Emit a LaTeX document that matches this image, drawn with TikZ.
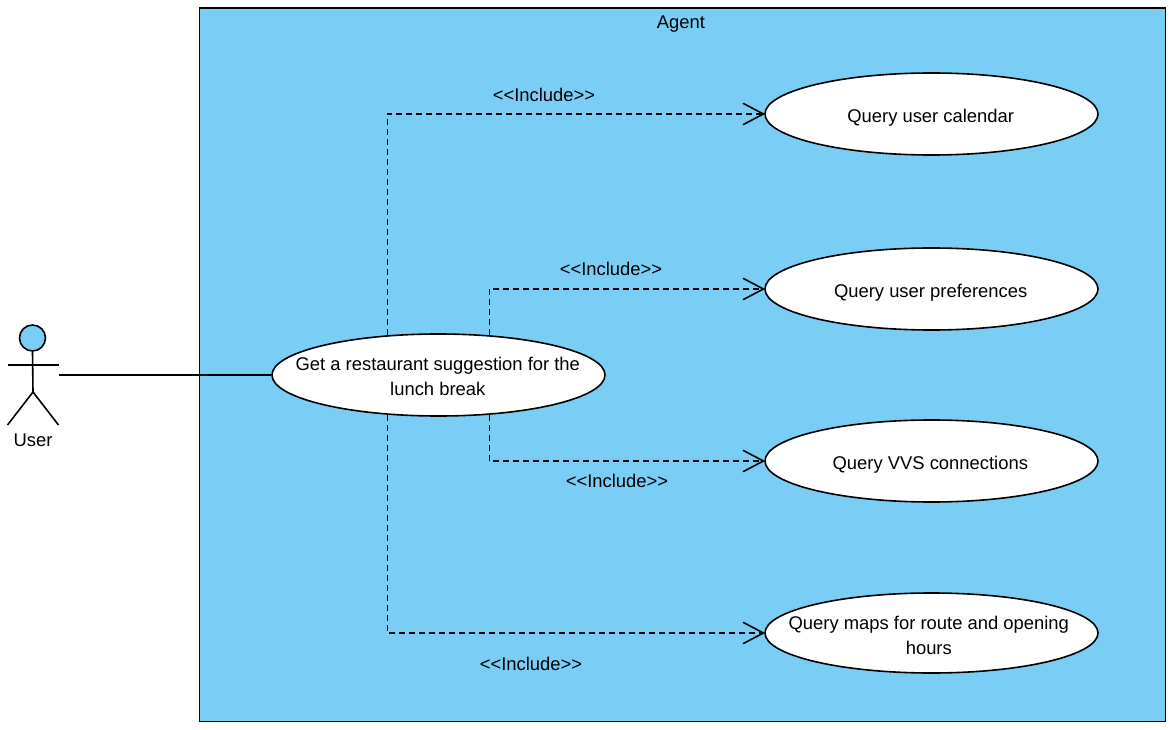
\documentclass[tikz,border=0pt]{standalone}
\usepackage{fontspec}
\setmainfont{Liberation Sans}
\usetikzlibrary{shapes.geometric,arrows.meta}
\definecolor{agentblue}{RGB}{122,206,245}
\begin{document}
\begin{tikzpicture}[x=1pt,y=-1pt,
  line width=1.6pt,
  every label/.style={font=\fontsize{18.4}{25}\selectfont,align=center,inner sep=0pt},
  usecase/.style={draw,ellipse,fill=white,inner sep=0pt,minimum width=333pt},
  txt/.style={font=\fontsize{18.4}{25}\selectfont,inner sep=0pt,align=center},
  incl/.style={line width=1.8pt,dash pattern=on 6pt off 4pt,-{Straight Barb[length=20pt,width=21pt,line width=1.6pt,round]}}
]
\useasboundingbox (0,0) rectangle (1170,730);
\node[draw,line width=1.4pt,fill=agentblue,minimum width=965.5pt,minimum height=713.5pt,inner sep=0pt,anchor=north west] (agent) at (199,7.2) {};
\node[txt] (agentlabel) at (681,24.5) {Agent};
% actor
\node[draw,circle,fill=agentblue,minimum size=26pt,inner sep=0pt] (head) at (32.5,338) {};
\coordinate (hip) at (33,392);
\coordinate (armL) at (7.5,365);
\coordinate (armR) at (58.5,365);
\coordinate (footL) at (7.5,425);
\coordinate (footR) at (58.5,425);
\coordinate (assoc) at (58.5,375);
\draw (head.south) -- (hip);
\draw (armL) -- (armR);
\draw (footL) -- (hip) -- (footR);
\node[txt] (user) at (33,440) {User};
% use cases
\node[usecase,minimum height=82pt,label={[xshift=-0.7pt,yshift=-1.5pt]center:{Get a restaurant suggestion for the\\lunch break}}] (main) at (438.5,375) {};
\node[usecase,minimum height=82pt,label={[xshift=-0.8pt,yshift=-3.5pt]center:{Query user calendar}}] (cal) at (931.5,114) {};
\node[usecase,minimum height=82pt,label={[xshift=-0.8pt,yshift=-3.5pt]center:{Query user preferences}}] (pref) at (931.5,289) {};
\node[usecase,minimum height=82pt,label={[xshift=-1.2pt,yshift=-3.5pt]center:{Query VVS connections}}] (vvs) at (931.5,461) {};
\node[usecase,minimum height=80pt,label={[xshift=-2.7pt,yshift=-2.5pt]center:{Query maps for route and opening\\hours}}] (maps) at (931.5,633) {};
% connectors
\draw (assoc) -- (main.west);
\draw[incl] (main.142) |- (cal.west);
\draw[incl] (main.38) |- (pref.west);
\draw[incl] (main.322) |- (vvs.west);
\draw[incl] (main.218) |- (maps.west);
% labels
\node[txt] (l1) at (544,95) {<{}<Include>{}>};
\node[txt] (l2) at (611,269) {<{}<Include>{}>};
\node[txt] (l3) at (617,481) {<{}<Include>{}>};
\node[txt] (l4) at (531,664) {<{}<Include>{}>};
\end{tikzpicture}
\end{document}
